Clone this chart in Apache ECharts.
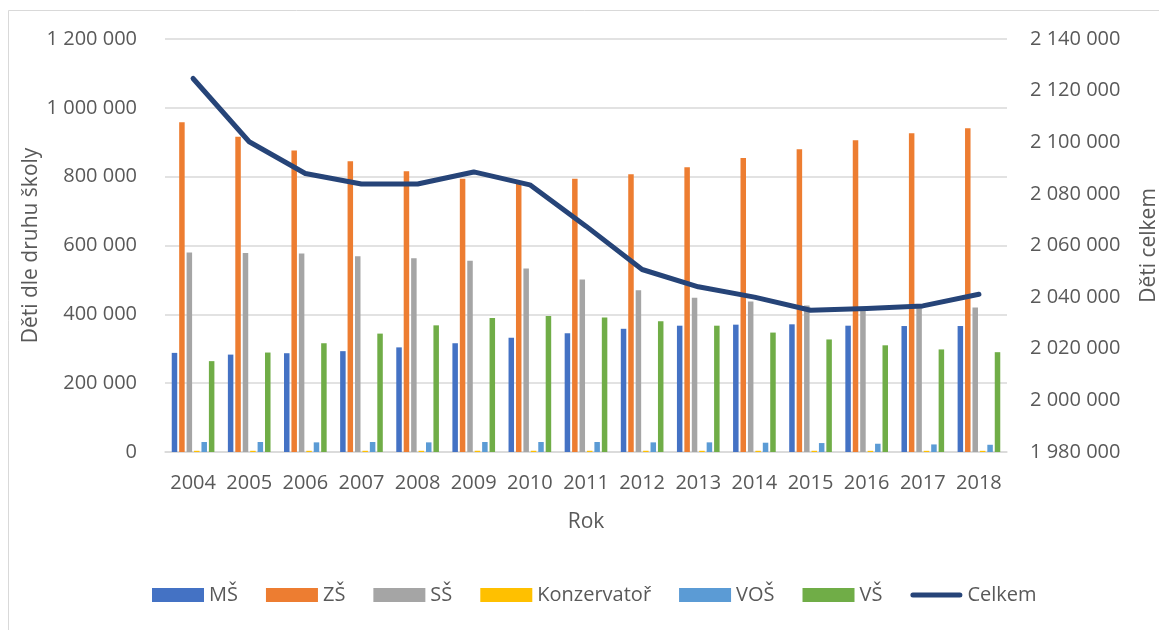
<!DOCTYPE html>
<html>
<head>
<meta charset="utf-8">
<script src="https://cdn.jsdelivr.net/npm/echarts@6/dist/echarts.min.js"></script>
<style>
html,body{margin:0;padding:0;background:#fff;}
#chart{width:1159px;height:630px;}
</style>
</head>
<body>
<div id="chart"></div>
<script>
const years = ['2004','2005','2006','2007','2008','2009','2010','2011','2012','2013','2014','2015','2016','2017','2018'];
const MS   = [288000,283000,287000,293000,304000,316000,332000,345000,358000,367000,370000,371000,367000,366000,366000];
const ZS   = [958000,916000,876000,845000,816000,794000,787000,794000,807000,827000,854000,880000,906000,926000,941000];
const SS   = [580000,578000,577000,569000,563000,556000,533000,501000,470000,448000,437000,426000,420000,423000,420000];
const KONZ = [3500,3500,3500,3500,3500,3600,3600,3600,3600,3500,3500,3500,3400,3400,3400];
const VOS  = [29000,29000,28000,29000,28000,29000,29000,29000,28000,28000,27000,26000,24000,22000,21000];
const VS   = [264000,289000,316000,344000,368000,389000,395000,391000,380000,367000,347000,327000,310000,298000,290000];
const CELKEM = [2124700,2100200,2087900,2083800,2083800,2088500,2083500,2067500,2050700,2044000,2040000,2034900,2035600,2036600,2041100];
const leftTicks = {min:0, max:1200000, interval:200000};
const rightTicks = {min:1980000, max:2140000, interval:20000};

const fmt = v => String(v).replace(/\B(?=(\d{3})+(?!\d))/g, ' ');
const FONT = '"Open Sans", sans-serif';
const txt = '#595959';

const chart = echarts.init(document.getElementById('chart'), null, {renderer:'canvas'});
function bar(name, data, color){
  return {name, type:'bar', data, yAxisIndex:0, itemStyle:{color},
    barCategoryGap:'24%', barGap:'35%'};
}
const lineIcon = 'path://M0,0 L0.01,0 M0,14 L0.01,14 M2.5,4.5 L49.5,4.5 A2.5,2.5 0 0 1 49.5,9.5 L2.5,9.5 A2.5,2.5 0 0 1 2.5,4.5 Z';
chart.setOption({
  backgroundColor:'#fff',
  animation:false,
  textStyle:{fontFamily:FONT},
  graphic:[{type:'rect', shape:{x:8.5,y:10.5,width:1200,height:700}, style:{fill:'none', stroke:'#d9d9d9', lineWidth:1}, silent:true}],
  grid:{left:165, right:152, top:39, bottom:178, containLabel:false, outerBoundsMode:'none'},
  legend:{
    left:147, top:580, itemWidth:52, itemHeight:14, itemGap:28,
    textStyle:{fontFamily:FONT, fontSize:20, color:txt},
    data:[
      {name:'MŠ', icon:'rect'},{name:'ZŠ', icon:'rect'},{name:'SŠ', icon:'rect'},
      {name:'Konzervatoř', icon:'rect'},{name:'VOŠ', icon:'rect'},{name:'VŠ', icon:'rect'},
      {name:'Celkem', icon:lineIcon}
    ]
  },
  xAxis:{
    type:'category', data:years,
    name:'Rok', nameLocation:'middle', nameGap:60,
    nameTextStyle:{fontFamily:FONT, fontSize:21, color:txt},
    axisLine:{lineStyle:{color:'#d9d9d9', width:1.5}},
    axisTick:{show:false},
    axisLabel:{fontFamily:FONT, fontSize:20, color:txt, margin:21, interval:0}
  },
  yAxis:[{
    type:'value', position:'left', ...leftTicks,
    name:'Děti dle druhu školy', nameLocation:'middle', nameGap:123, nameRotate:90, nameMoveOverlap:false,
    nameTextStyle:{fontFamily:FONT, fontSize:21, color:txt},
    axisLine:{show:false}, axisTick:{show:false},
    axisLabel:{fontFamily:FONT, fontSize:20, color:txt, margin:28, formatter:fmt},
    splitLine:{lineStyle:{color:'#d9d9d9', width:1.5}}
  },{
    type:'value', position:'right', ...rightTicks,
    name:'Děti celkem', nameLocation:'middle', nameGap:132, nameRotate:90,
    nameTextStyle:{fontFamily:FONT, fontSize:21, color:txt},
    axisLine:{show:false}, axisTick:{show:false},
    axisLabel:{fontFamily:FONT, fontSize:20, color:txt, margin:23, formatter:fmt},
    splitLine:{show:false}
  }],
  series:[
    bar('MŠ', MS, '#4472c4'),
    bar('ZŠ', ZS, '#ed7d31'),
    bar('SŠ', SS, '#a5a5a5'),
    bar('Konzervatoř', KONZ, '#ffc000'),
    bar('VOŠ', VOS, '#5b9bd5'),
    bar('VŠ', VS, '#70ad47'),
    {name:'Celkem', type:'line', yAxisIndex:1, data:CELKEM, symbol:'none',
      lineStyle:{color:'#264478', width:5, cap:'round', join:'round'}, itemStyle:{color:'#264478'}, z:5}
  ]
});
</script>
</body>
</html>
